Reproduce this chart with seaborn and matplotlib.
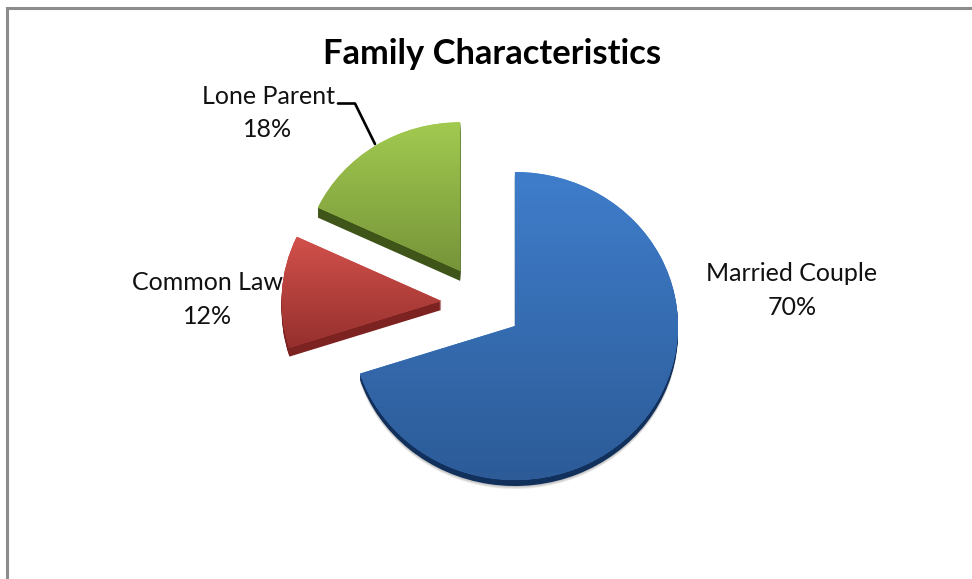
import numpy as np
import matplotlib
matplotlib.use("Agg")
import matplotlib.pyplot as plt
from matplotlib.colors import LinearSegmentedColormap
from matplotlib.lines import Line2D
import seaborn as sns

categories = ["Married Couple", "Common Law", "Lone Parent"]
shares = [70, 12, 18]
title = "Family Characteristics"

top_colors = ["#3F7DCB", "#D2504B", "#A2CA50"]
bottom_colors = ["#2C5B97", "#95302D", "#769439"]
side_colors = ["#12305C", "#7C2220", "#3F5419"]
side_depths = [6, 9, 10]
slice_scale = [1.0, 0.98, 0.965]

W, H = 972, 579
CX, CY, RX, RY = 482.0, 303.4, 163.0, 154.0
EXPLODE = 0.25

sns.set_theme(style="white")
plt.rcParams["font.family"] = ["Lato", "DejaVu Sans"]

fig = plt.figure(figsize=(W / 100, H / 100), dpi=100, facecolor="white")
ax = fig.add_axes([0, 0, 1, 1])
explode = [EXPLODE] * len(shares)


def draw_pie(dy, colors):
    wedges, _ = ax.pie(shares, explode=explode, startangle=90, counterclock=False,
                       colors=colors, center=(0, -dy / RY), frame=False,
                       wedgeprops={"linewidth": 0})
    for w, s in zip(wedges, slice_scale):
        w.set_radius(s)
    return wedges


# soft shadow below the blue slice
for d in [9, 8, 7]:
    draw_pie(d, [(0.3, 0.3, 0.3, 0.12), (0, 0, 0, 0), (0, 0, 0, 0)])
# extruded sides
for d in range(max(side_depths), 0, -1):
    cols = [c if d <= dep else (0, 0, 0, 0) for c, dep in zip(side_colors, side_depths)]
    draw_pie(d, cols)
# top faces with a vertical gradient clipped to each wedge
wedges = draw_pie(0, top_colors)
xlim = ((0 - CX) / RX, (W - CX) / RX)
ylim = ((CY - H) / RY, CY / RY)
ramp = np.linspace(0, 1, 256).reshape(-1, 1)
for w, c0, c1 in zip(wedges, top_colors, bottom_colors):
    bb = w.get_path().get_extents(w.get_patch_transform())
    cmap = LinearSegmentedColormap.from_list("g", [c0, c1])
    im = ax.imshow(ramp, cmap=cmap, origin="upper", aspect="auto", zorder=3,
                   extent=(bb.x0, bb.x1, bb.y0, bb.y1), interpolation="bilinear")
    im.set_clip_path(w)
ax.set_aspect("auto")
ax.set_xlim(xlim)
ax.set_ylim(ylim)
ax.axis("off")

# chart frame, cut by the crop on the right and bottom
border = "#8C8C8C"
fig.add_artist(Line2D([6.5 / W, 6.5 / W, 1], [0, 1 - 7.5 / H, 1 - 7.5 / H],
                      transform=fig.transFigure, color=border, lw=2.2,
                      solid_joinstyle="miter"))

# leader line for the Lone Parent label
fig.add_artist(Line2D(np.array([338, 355, 375]) / W, 1 - np.array([103.5, 103.5, 144]) / H,
                      transform=fig.transFigure, color="black", lw=1.9))

label_pos = [(792, 290.5), (207.5, 299.5), (268, 113)]
for name, val, (x, y) in zip(categories, shares, label_pos):
    fig.text(x / W, 1 - y / H, f"{name}\n{val}%", ha="center", va="center",
             fontsize=18, color="#111111", linespacing=1.55, zorder=10)

fig.text(492 / W, 1 - 54.5 / H, title, ha="center", va="center",
         fontsize=24.8, fontweight="bold", color="black")

fig.savefig("out.png", dpi=100)
